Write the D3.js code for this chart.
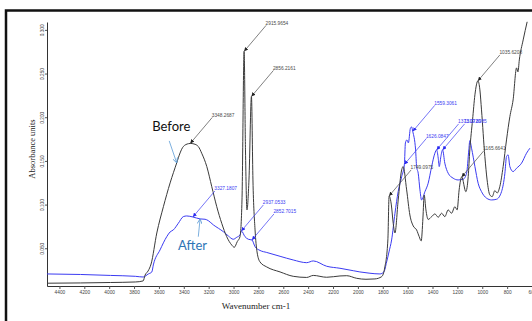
<!DOCTYPE html>
<html>
<head>
<meta charset="utf-8">
<script src="https://cdn.jsdelivr.net/npm/d3@7"></script>
<style>
  body { margin: 0; background: #fff; }
  svg { display: block; }
</style>
</head>
<body>
<div id="chart"></div>
<script>
// FTIR spectra (wavenumber cm-1 / absorbance units)
const wnBefore = [4500, 4230, 3990, 3790, 3727, 3711, 3687, 3663, 3617, 3564, 3510, 3457, 3430, 3404, 3363, 3348, 3318, 3283, 3256, 3215, 3175, 3135, 3095, 3055, 3015, 2994, 2970, 2948, 2932, 2915, 2904, 2892, 2876, 2856, 2844, 2827, 2811, 2787, 2733, 2626, 2520, 2412, 2359, 2251, 2144, 2090, 2010, 1935, 1863, 1809, 1783, 1759, 1749, 1731, 1716, 1702, 1676, 1648, 1636, 1608, 1582, 1555, 1528, 1507, 1491, 1477, 1467, 1453, 1435, 1407, 1381, 1354, 1327, 1301, 1274, 1247, 1220, 1202, 1186, 1165, 1132, 1113, 1100, 1078, 1059, 1035, 1019, 1006, 979, 961, 939, 920, 899, 880, 859, 832, 805, 778, 752, 724, 713, 702, 671, 639];
const absBefore = [0.010, 0.0103, 0.0108, 0.0114, 0.0126, 0.0194, 0.024, 0.032, 0.0675, 0.0976, 0.1248, 0.1477, 0.1591, 0.1664, 0.1697, 0.170, 0.1694, 0.1664, 0.1588, 0.1435, 0.1205, 0.0976, 0.0786, 0.0633, 0.0538, 0.0511, 0.0576, 0.0633, 0.1053, 0.2754, 0.1626, 0.0939, 0.1282, 0.2238, 0.1282, 0.071, 0.0458, 0.0343, 0.0286, 0.0229, 0.0179, 0.0166, 0.0189, 0.0168, 0.0183, 0.0186, 0.0156, 0.0145, 0.0149, 0.0175, 0.0286, 0.0595, 0.1099, 0.0996, 0.0786, 0.0675, 0.1053, 0.1397, 0.1435, 0.1168, 0.0881, 0.0755, 0.0710, 0.0633, 0.0584, 0.0847, 0.1110, 0.0939, 0.0830, 0.0862, 0.0893, 0.0855, 0.0901, 0.0862, 0.0939, 0.0901, 0.0976, 0.0939, 0.1168, 0.1317, 0.1148, 0.1320, 0.1626, 0.1969, 0.2256, 0.2416, 0.2313, 0.2084, 0.1549, 0.1282, 0.1110, 0.1091, 0.1160, 0.1133, 0.1205, 0.1435, 0.174, 0.2007, 0.2198, 0.2565, 0.2519, 0.2656, 0.2885, 0.3092];

const wnAfter = [4500, 4230, 3990, 3790, 3727, 3685, 3657, 3645, 3591, 3537, 3510, 3484, 3444, 3404, 3376, 3327, 3269, 3229, 3203, 3162, 3122, 3082, 3042, 3002, 2974, 2948, 2937, 2908, 2881, 2852, 2827, 2787, 2733, 2626, 2520, 2412, 2359, 2251, 2144, 2037, 1984, 1903, 1823, 1791, 1769, 1750, 1729, 1702, 1676, 1648, 1626, 1618, 1606, 1594, 1578, 1568, 1559, 1536, 1528, 1515, 1501, 1488, 1461, 1435, 1407, 1381, 1367, 1354, 1346, 1333, 1319, 1301, 1274, 1234, 1194, 1153, 1126, 1108, 1100, 1086, 1059, 1033, 1006, 965, 925, 885, 845, 818, 805, 792, 778, 752, 724, 684, 644, 617];
const absAfter = [0.0206, 0.0200, 0.0189, 0.0179, 0.0171, 0.0206, 0.0229, 0.0309, 0.0481, 0.0633, 0.0687, 0.0710, 0.0786, 0.0862, 0.0870, 0.0858, 0.0836, 0.0832, 0.0816, 0.0767, 0.0729, 0.0690, 0.0641, 0.0603, 0.0626, 0.0652, 0.0698, 0.0633, 0.0603, 0.0595, 0.0518, 0.0475, 0.0452, 0.0408, 0.0366, 0.0335, 0.0355, 0.0294, 0.0271, 0.0243, 0.0229, 0.0214, 0.0206, 0.0229, 0.0343, 0.0458, 0.0595, 0.090, 0.115, 0.132, 0.1460, 0.1706, 0.174, 0.1706, 0.1872, 0.1889, 0.1838, 0.1626, 0.1435, 0.1359, 0.1168, 0.1053, 0.1148, 0.1244, 0.1435, 0.1588, 0.1626, 0.1531, 0.1435, 0.1549, 0.1626, 0.1474, 0.1359, 0.1302, 0.1282, 0.1290, 0.1359, 0.1626, 0.1732, 0.1645, 0.1435, 0.1244, 0.1148, 0.1073, 0.1053, 0.1061, 0.1148, 0.1359, 0.1549, 0.1569, 0.1435, 0.1378, 0.1416, 0.1474, 0.1588, 0.1645];

// peak picks
const peaksBefore = [3348, 2915, 2856, 1749, 1165, 1035];
const peakLabelsBefore = ["3348.2687", "2915.9654", "2856.2161", "1749.0975", "1165.6641", "1035.6208"];
const peaksAfter = [3327, 2937, 2852, 1626, 1559, 1367, 1319];
const peakLabelsAfter = ["3327.1807", "2937.0533", "2852.7015", "1626.0847", "1559.3061", "1373.0720", "1319.8985"];

const xTicks = d3.range(4400, 599, -200);
const yTicks = [0.05, 0.10, 0.15, 0.20, 0.25, 0.30];

const width = 532, height = 321;
const svg = d3.select("#chart").append("svg")
  .attr("width", width)
  .attr("height", height);

// outer frame (cut off at right / bottom like the screenshot)
svg.append("rect")
  .attr("x", 6).attr("y", 10.5)
  .attr("width", 600).attr("height", 400)
  .attr("fill", "none")
  .attr("stroke", "#111")
  .attr("stroke-width", 2.5);

const x = d3.scaleLinear().domain([4500, 600]).range([47, 532]);
const y = d3.scaleLinear().domain([0.0068, 0.309]).range([286, 22]);

// x axis
const gx = svg.append("g")
  .attr("transform", "translate(0,286)")
  .call(d3.axisBottom(x).tickValues(xTicks).tickSize(3).tickSizeOuter(0).tickFormat(d3.format("d")));
gx.select(".domain").attr("stroke", "#333");
gx.selectAll(".tick line").attr("stroke", "#555");
gx.selectAll("text")
  .attr("y", 5).attr("dy", "0.71em")
  .attr("fill", "#444")
  .style("font-family", "Liberation Sans, Arial, sans-serif")
  .style("font-size", "4.8px");

// y axis, labels turned on their side
const gy = svg.append("g")
  .attr("transform", "translate(47,0)")
  .call(d3.axisLeft(y).tickValues(yTicks).tickSize(2).tickSizeOuter(0).tickFormat(d3.format(".3f")));
gy.select(".domain").attr("stroke", "#333");
gy.selectAll(".tick line").attr("stroke", "#555");
gy.selectAll("text")
  .attr("transform", "rotate(-90)")
  .attr("x", 0).attr("y", -2.8).attr("dy", 0)
  .attr("text-anchor", "middle")
  .attr("fill", "#444")
  .style("font-family", "Liberation Sans, Arial, sans-serif")
  .style("font-size", "4.8px");

// axis titles
svg.append("text")
  .attr("x", 256).attr("y", 309)
  .attr("text-anchor", "middle")
  .style("font-family", "Liberation Serif, Times New Roman, serif")
  .style("font-size", "9px")
  .attr("fill", "#222")
  .text("Wavenumber cm-1");

svg.append("text")
  .attr("transform", "translate(35,149) rotate(-90)")
  .attr("text-anchor", "middle")
  .style("font-family", "Liberation Serif, Times New Roman, serif")
  .style("font-size", "8.5px")
  .attr("fill", "#222")
  .text("Absorbance units");

// spectra
const before = wnBefore.map((w, i) => [w, absBefore[i]]);
const after = wnAfter.map((w, i) => [w, absAfter[i]]);

const line = d3.line()
  .x(d => x(d[0]))
  .y(d => y(d[1]))
  .curve(d3.curveMonotoneX);

svg.append("clipPath").attr("id", "plot")
  .append("rect").attr("x", 47).attr("y", 14).attr("width", 490).attr("height", 272);

svg.append("path").datum(after)
  .attr("clip-path", "url(#plot)")
  .attr("d", line)
  .attr("fill", "none")
  .attr("stroke", "#3b3bf2")
  .attr("stroke-width", 1);

svg.append("path").datum(before)
  .attr("clip-path", "url(#plot)")
  .attr("d", line)
  .attr("fill", "none")
  .attr("stroke", "#3a3a3a")
  .attr("stroke-width", 1);

// arrow heads
const defs = svg.append("defs");
function arrowHead(id, color) {
  defs.append("marker")
    .attr("id", id)
    .attr("viewBox", "0 0 6 6")
    .attr("refX", 6).attr("refY", 3)
    .attr("markerWidth", 4).attr("markerHeight", 4)
    .attr("markerUnits", "userSpaceOnUse")
    .attr("orient", "auto")
    .append("path").attr("d", "M0,0L6,3L0,6Z").attr("fill", color);
}
arrowHead("tipBlack", "#222");
arrowHead("tipBlue", "#2a2af0");
defs.append("marker")
  .attr("id", "tipOpen")
  .attr("viewBox", "0 0 6 6")
  .attr("refX", 6).attr("refY", 3)
  .attr("markerWidth", 5).attr("markerHeight", 5)
  .attr("markerUnits", "userSpaceOnUse")
  .attr("orient", "auto")
  .append("path").attr("d", "M0,0L6,3L0,6").attr("fill", "none").attr("stroke", "#5b9bd5");

// peak labels: label sits up and to the right of the peak
const labelDx = 22, labelDy = -26;
function peakPicks(series, peaks, labels, color, tipId) {
  const g = svg.append("g");
  peaks.forEach((w, i) => {
    const p = series.find(d => d[0] === w);
    const px = x(p[0]), py = y(p[1]);
    const sx = px + labelDx, sy = py + labelDy;
    g.append("line")
      .attr("x1", sx).attr("y1", sy)
      .attr("x2", px).attr("y2", py)
      .attr("stroke", color)
      .attr("stroke-width", 0.7)
      .attr("marker-end", `url(#${tipId})`);
    g.append("text")
      .attr("x", sx - 0.5).attr("y", sy - 0.5)
      .attr("fill", color)
      .style("font-family", "Liberation Sans, Arial, sans-serif")
      .style("font-size", "4.8px")
      .text(labels[i]);
  });
}
peakPicks(before, peaksBefore, peakLabelsBefore, "#4a4a4a", "tipBlack");
peakPicks(after, peaksAfter, peakLabelsAfter, "#3b3bf2", "tipBlue");

// series call-outs
function callout(series, w, text, color, arrowOff, textOff) {
  const p = series.find(d => d[0] === w);
  const px = x(p[0]), py = y(p[1]);
  svg.append("line")
    .attr("x1", px + arrowOff[0]).attr("y1", py + arrowOff[1])
    .attr("x2", px).attr("y2", py)
    .attr("stroke", "#5b9bd5")
    .attr("stroke-width", 0.8)
    .attr("marker-end", "url(#tipOpen)");
  svg.append("text")
    .attr("x", px + textOff[0]).attr("y", py + textOff[1])
    .attr("fill", color)
    .style("font-family", "Lato, Calibri, sans-serif")
    .style("font-size", "13px")
    .text(text);
}
callout(before, 3457, "Before", "#111", [-7.5, -22], [-24.5, -32]);
callout(after, 3269, "After", "#2e75b6", [-1.8, 17.8], [-22, 31]);
</script>
</body>
</html>
